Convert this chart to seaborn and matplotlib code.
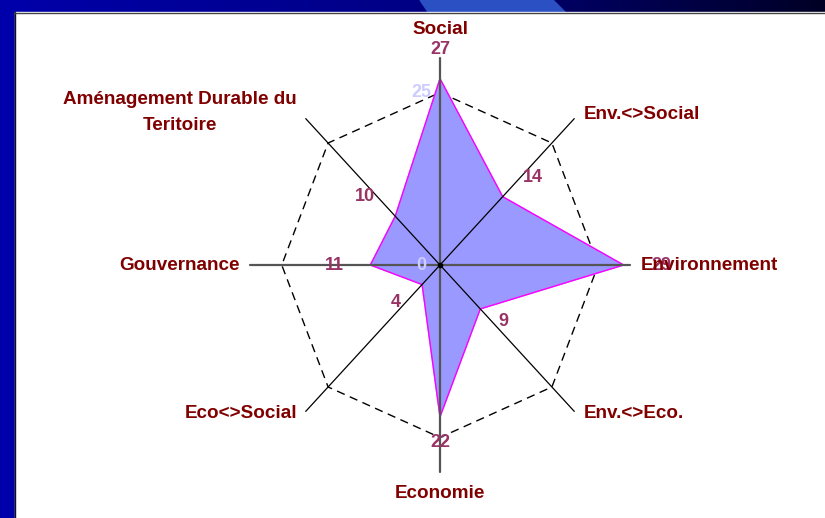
# Radar chart - profil développement durable
import numpy as np
import matplotlib
matplotlib.use('Agg')
import matplotlib.pyplot as plt
import seaborn as sns
from matplotlib.patches import Rectangle, Polygon
from matplotlib.colors import LinearSegmentedColormap

# Data
categories = ['Social', 'Env.<>Social', 'Environnement', 'Env.<>Eco.',
              'Economie', 'Eco<>Social', 'Gouvernance',
              'Aménagement Durable du\nTeritoire']
values = [27, 14, 29, 9, 22, 4, 11, 10]
ring_ticks = [0, 25]
axis_max = 30

# Label placement (pixels)
value_offsets = [(0, 29), (30, 19), (38, 0), (23, -13),
                 (0, -26), (-26, -18), (-36, 0), (-30, 20)]
cat_offsets = [(0, 28), (9, 4), (11, 0), (9, -2),
               (0, -21), (-8, -2), (-10, 0), (-126, 6)]
cat_align = ['center', 'left', 'left', 'left', 'center', 'right', 'right', 'center']

sns.set_theme(style='white')
plt.rcParams['font.family'] = ['Liberation Sans', 'DejaVu Sans']

fig = plt.figure(figsize=(8.25, 5.18), dpi=100)

# Slide background (blue frame + white area)
bg = fig.add_axes([0, 0, 1, 1])
grad = np.linspace(0, 1, 256).reshape(1, -1)
band = LinearSegmentedColormap.from_list('band', ['#0000AA', '#000085', '#000025'])
bg.imshow(grad, cmap=band, extent=[0, 825, 12, 0], aspect='auto')
bg.add_patch(Polygon([[420, 0], [553, 0], [565, 12], [428, 12]], color='#2a50c4'))
bg.add_patch(Rectangle((0, 0), 14, 518, color='#0000AA'))
bg.add_patch(Rectangle((15, 12), 810, 506, color='white'))
bg.plot([14.5, 14.5], [12, 518], color='#111111', lw=1)
bg.plot([14, 825], [12.5, 12.5], color='#444444', lw=1)
bg.set_xlim(0, 825)
bg.set_ylim(518, 0)
bg.axis('off')

# Radar axes (elliptical scale like the original)
ax = fig.add_axes([0, 0, 1, 1])
ax.patch.set_alpha(0)
ax.set_xlim(-440 / 6.33, 385 / 6.33)
ax.set_ylim(-253 / 6.9, 265 / 6.9)
ax.axis('off')

n = len(categories)
theta = np.arange(n) * 2 * np.pi / n
sx, sy = np.sin(theta), np.cos(theta)

# dashed ring at 25
ring = ring_ticks[-1]
ax.plot(np.append(ring * sx, ring * sx[0]), np.append(ring * sy, ring * sy[0]),
        color='black', lw=1, linestyle=(0, (6, 4)), zorder=1)

# data polygon
v = np.array(values)
px = np.append(v * sx, v[0] * sx[0])
py = np.append(v * sy, v[0] * sy[0])
ax.fill(px, py, color='#9999FF', zorder=2)
sns.lineplot(x=px, y=py, sort=False, estimator=None, color='#FF00FF', lw=1, ax=ax, zorder=3)

# spokes
for i in range(n):
    if i % 2 == 0:
        ax.plot([0, axis_max * sx[i]], [0, axis_max * sy[i]], color='#555555', lw=1.6, zorder=4)
    else:
        ax.plot([0, axis_max * sx[i]], [0, axis_max * sy[i]], color='black', lw=0.9, zorder=4)
ax.plot([0], [0], 'o', color='black', ms=3, zorder=5)

# radial tick labels
for t in ring_ticks:
    ax.annotate(str(t), (0, t), xytext=(-19, 0), textcoords='offset pixels',
                ha='center', va='center', color='#CCCCFF', fontsize=13,
                fontweight='bold', zorder=6)

# value labels
for i in range(n):
    ax.annotate(str(values[i]), (values[i] * sx[i], values[i] * sy[i]),
                xytext=value_offsets[i], textcoords='offset pixels',
                ha='center', va='center', color='#993366', fontsize=13,
                fontweight='bold', zorder=6)

# category labels
for i in range(n):
    ax.annotate(categories[i], (axis_max * sx[i], axis_max * sy[i]),
                xytext=cat_offsets[i], textcoords='offset pixels',
                ha=cat_align[i], va='center', multialignment='center',
                linespacing=1.65, color='#800000', fontsize=13.6,
                fontweight='bold', zorder=6)

fig.savefig('out.png', dpi=100)
